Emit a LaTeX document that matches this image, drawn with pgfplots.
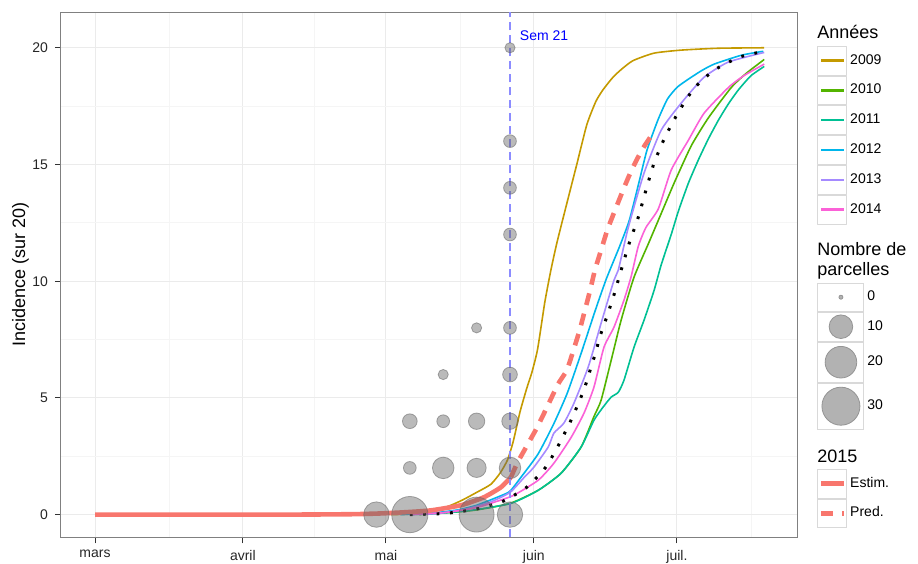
\documentclass[border=0pt]{standalone}
\usepackage{fontspec}
\setmainfont{Liberation Sans}
\usepackage{pgfplots}
\pgfplotsset{compat=1.18}
\usepackage{pgfplotstable}
\usetikzlibrary{calc}

\definecolor{c2009}{HTML}{C49A00}
\definecolor{c2010}{HTML}{53B400}
\definecolor{c2011}{HTML}{00C094}
\definecolor{c2012}{HTML}{00B6EB}
\definecolor{c2013}{HTML}{A58AFF}
\definecolor{c2014}{HTML}{FB61D7}
\definecolor{c2015}{HTML}{F8766D}
\definecolor{semblue}{HTML}{8C8CFF}

\pgfplotsset{
  boxkey/.style={legend image code/.code={%
    \draw[black!15,line width=0.5pt,fill=white,solid,opacity=1] (0pt,-7.2pt) rectangle (14.4pt,7.2pt);
    \draw[##1] (1.6pt,0pt) -- (12.8pt,0pt);}},
  yearkey/.style={legend image code/.code={%
    \draw[black!15,line width=0.5pt,fill=white,solid,opacity=1] (0pt,-7.2pt) rectangle (14.4pt,7.2pt);
    \draw[##1, line width=1.2pt] (1.6pt,0pt) -- (12.8pt,0pt);}},
  sizekey/.style 2 args={legend image code/.code={%
    \draw[black!15,line width=0.5pt,fill=white,solid,opacity=1] (0pt,-#1) rectangle (23pt,#1);
    \draw[fill=black!30,draw=black!42,line width=0.4pt,solid,opacity=1] (11.5pt,0pt) circle (#2);}},
  keylegend/.style={legend style={draw=none, fill=none, inner sep=0pt, row sep=0pt, column sep=0pt,
    font=\fontsize{7}{8}\selectfont, nodes={inner xsep=1.5pt, inner ysep=0pt}, cells={anchor=west}},
    legend cell align=left},
  yearline/.style={line width=0.8pt, line join=round, smooth, tension=0.35, yearkey},
}

% day of year (2015): mars=60, avril=91, mai=121, juin=152, juil=182
\pgfplotstableread{
d y
122 0
126 0.02
130 0.1
134 0.35
137 0.62
140 0.95
143 1.3
145 1.8
146.5 2.35
147.7 3.15
149.1 4.4
150.5 5.4
151.6 6.1
152.8 7.1
154.3 9.1
155.6 10.5
156.9 11.7
159.0 13.4
161.0 15.0
163.1 16.7
165.0 17.7
166.5 18.2
168.6 18.74
170.5 19.1
172.8 19.45
177.2 19.77
182.9 19.9
190.7 19.98
200.3 20.0
}\tabA

\pgfplotstableread{
d y
128 0
135 0.1
140 0.2
147 0.48
152.9 1.04
157.7 1.77
161.9 2.89
164.6 4.2
166.1 4.9
168.2 6.6
170.3 8.33
173.0 10.17
176.0 11.6
178.7 12.9
181.4 14.2
185.0 15.8
188.6 17.0
193.4 18.3
196.5 18.9
200.3 19.5
}\tabB

\pgfplotstableread{
d y
126 0
132 0.05
138.8 0.18
147.2 0.48
152.9 1.04
157.7 1.77
161.9 2.89
164.6 4.04
166.5 4.6
168.2 5.03
169.7 5.24
170.9 5.76
173.0 7.17
175.1 8.33
177.2 9.6
178.7 10.7
180.8 12.0
182.3 13.0
184.4 14.2
186.5 15.2
188.6 16.1
190.7 16.9
192.8 17.6
194.9 18.2
197.5 18.8
200.3 19.2
}\tabC

\pgfplotstableread{
d y
124 0
130 0.05
136 0.2
140 0.4
145 0.8
147 1.0
149.3 1.6
152.9 2.6
156.2 3.9
159.0 5.2
161.9 6.9
164.8 8.7
167.2 10.1
170.0 11.5
172.0 12.6
174.0 14.2
175.7 15.6
178.0 16.9
180.0 17.8
182.0 18.3
184.0 18.6
187.0 19.0
189.8 19.3
195.5 19.68
200.1 19.85
}\tabD

\pgfplotstableread{
d y
126 0
132 0.05
138 0.25
143 0.55
147 0.95
150 1.6
152.0 2.03
155.0 2.89
156.2 3.49
158.3 3.92
160.4 4.77
163.4 6.32
166.1 8.2
168.8 10.04
169.7 10.47
171.8 12.3
175.1 14.63
178.7 16.47
182.9 17.63
187.7 18.74
192.8 19.39
200.3 19.8
}\tabE

\pgfplotstableread{
d y
126 0
134 0.1
140 0.3
144 0.55
147.8 0.83
152.9 1.47
156.2 2.2
159.8 3.3
162.5 4.34
164.6 5.46
166.7 7.17
168.8 8.03
170.9 9.19
172.4 10.2
173.9 11.5
175.5 12.3
178.1 13.1
180.8 14.76
184.4 16.04
187.7 17.2
192.8 18.3
196 18.8
200.3 19.3
}\tabF

\pgfplotstableread{
d y
126 0
130 0.02
133.9 0.06
139.8 0.23
145.5 0.57
150.5 1.17
154.5 2.03
157.5 3.1
160.0 4.13
162.3 5.24
163.3 5.84
164.1 6.4
165.0 6.96
165.8 7.6
166.7 8.12
168.6 9.28
170.3 10.47
172.0 11.63
173.9 12.74
175.5 13.9
177.2 15.06
179.5 16.17
182.3 17.24
185.6 18.27
189.8 19.04
195.1 19.6
200.3 19.85
}\tabMean

\pgfplotstableread{
d y
60 0
100 0
110 0.01
115 0.02
120 0.05
125 0.1
130.4 0.18
136.7 0.4
141.5 0.74
145.1 1.17
147.2 1.6
}\tabEst

\pgfplotstableread{
d y
147.2 1.6
148.5 2.2
150.6 2.97
152.7 3.74
154.8 4.62
157.1 5.6
158.9 6.18
160.3 7.04
161.6 7.9
162.7 8.75
163.8 9.61
164.8 10.47
166.2 11.4
167.6 12.3
170.7 13.9
172.5 14.76
174.6 15.6
176.5 16.2
}\tabPred

% weekly observations: day, incidence, number of plots
\pgfplotstableread{
d y n
119 0 12
126 0 27
126 2 2
126 4 3
133 2 8
133 4 2
133 6 1
140 0 25
140 2 6
140 4 4
140 8 1
147 0 12
147 2 8
147 4 4
147 6 3
147 8 2
147 12 2
147 14 2
147 16 2
147 20 1
}\tabObs

\begin{document}
\begin{tikzpicture}
\begin{axis}[
  name=ax, at={(0,0)}, anchor=south west,
  scale only axis, width=368pt, height=262.5pt,
  xmin=52.87, xmax=207.17, ymin=-0.973, ymax=21.52,
  xtick={60,91,121,152,182}, xticklabels={mars,avril,mai,juin,juil.},
  minor xtick={75.5,106,136.5,167,197.5},
  ytick={0,5,10,15,20}, minor ytick={2.5,7.5,12.5,17.5},
  grid=both,
  major grid style={black!8, line width=0.5pt},
  minor grid style={black!4, line width=0.35pt},
  tick align=outside, major tick length=3pt, minor tick length=0pt,
  xtick pos=bottom, ytick pos=left,
  axis line style={black!50, line width=0.5pt},
  tick style={black!80, line width=0.5pt},
  ticklabel style={font=\fontsize{7}{8}\selectfont, text=black!85},
  /pgf/number format/assume math mode=true,
  ylabel={Incidence (sur 20)},
  ylabel style={font=\fontsize{9}{10}\selectfont, at={(axis description cs:-0.055,0.5)}, anchor=center},
  keylegend,
  legend style={at={(1.0272,0.9371)}, anchor=north west},
]
\addplot[c2009, yearline] table[x=d,y=y]{\tabA};
\addlegendentry{2009}
\addplot[c2010, yearline] table[x=d,y=y]{\tabB};
\addlegendentry{2010}
\addplot[c2011, yearline] table[x=d,y=y]{\tabC};
\addlegendentry{2011}
\addplot[c2012, yearline] table[x=d,y=y]{\tabD};
\addlegendentry{2012}
\addplot[c2013, yearline] table[x=d,y=y]{\tabE};
\addlegendentry{2013}
\addplot[c2014, yearline] table[x=d,y=y]{\tabF};
\addlegendentry{2014}

\addplot[black, line width=1.5pt, line cap=butt, smooth, tension=0.35, dash pattern=on 1.4pt off 5.3pt, forget plot] table[x=d,y=y]{\tabMean};
\addplot[c2015, line width=2.3pt, line join=round, smooth, tension=0.35, forget plot] table[x=d,y=y]{\tabEst};
\addplot[c2015, line width=2.3pt, smooth, tension=0.35, dash pattern=on 6pt off 4.5pt, forget plot] table[x=d,y=y]{\tabPred};

\addplot[semblue, line width=0.6pt, dash pattern=on 4pt off 2.5pt, forget plot] coordinates {(147,-0.973) (147,21.52)};

\addplot[scatter, only marks, mark=*, forget plot,
  scatter/use mapped color={draw=black!60, fill=black!60},
  visualization depends on={0.5*(2+3.1*sqrt(\thisrow{n})) \as \prad},
  scatter/@pre marker code/.append style={/tikz/mark size=\prad},
  fill opacity=0.45, draw opacity=0.55, line width=0.4pt]
  table[x=d,y=y]{\tabObs};

\node[anchor=base west, inner sep=0pt, text=blue, font=\fontsize{7}{8}\selectfont] at (axis cs:149,20.3) {Sem 21};
\end{axis}

\begin{axis}[
  at={(0,0)}, anchor=south west,
  scale only axis, width=368pt, height=262.5pt,
  xmin=0, xmax=1, ymin=0, ymax=1, hide axis,
  keylegend,
  legend style={at={(1.0272,0.4857)}, anchor=north west},
]
\addlegendimage{sizekey={7pt}{1pt}}
\addlegendentry{0}
\addlegendimage{sizekey={7.25pt}{5.9pt}}
\addlegendentry{10}
\addlegendimage{sizekey={10pt}{7.9pt}}
\addlegendentry{20}
\addlegendimage{sizekey={11.5pt}{9.5pt}}
\addlegendentry{30}
\end{axis}

\begin{axis}[
  at={(0,0)}, anchor=south west,
  scale only axis, width=368pt, height=262.5pt,
  xmin=0, xmax=1, ymin=0, ymax=1, hide axis, clip=false,
  keylegend,
  legend style={at={(1.0272,0.1314)}, anchor=north west},
]
\addlegendimage{boxkey, c2015, line width=2.2pt}
\addlegendentry{Estim.}
\addlegendimage{boxkey, c2015, line width=2.2pt, dash pattern=on 6pt off 4.5pt}
\addlegendentry{Pred.}
\node[anchor=base west, inner sep=0pt, font=\fontsize{9}{10}\selectfont] at (axis description cs:1.0272,0.950) {Années};
\node[anchor=base west, inner sep=0pt, font=\fontsize{9}{10}\selectfont] at (axis description cs:1.0272,0.537) {Nombre de};
\node[anchor=base west, inner sep=0pt, font=\fontsize{9}{10}\selectfont] at (axis description cs:1.0272,0.499) {parcelles};
\node[anchor=base west, inner sep=0pt, font=\fontsize{9}{10}\selectfont] at (axis description cs:1.0272,0.1434) {2015};
\end{axis}

\pgfresetboundingbox
\path[use as bounding box] ($(ax.south west)+(-30.5pt,-13pt)$) rectangle ($(ax.north east)+(60.5pt,6.15pt)$);
\end{tikzpicture}
\end{document}
